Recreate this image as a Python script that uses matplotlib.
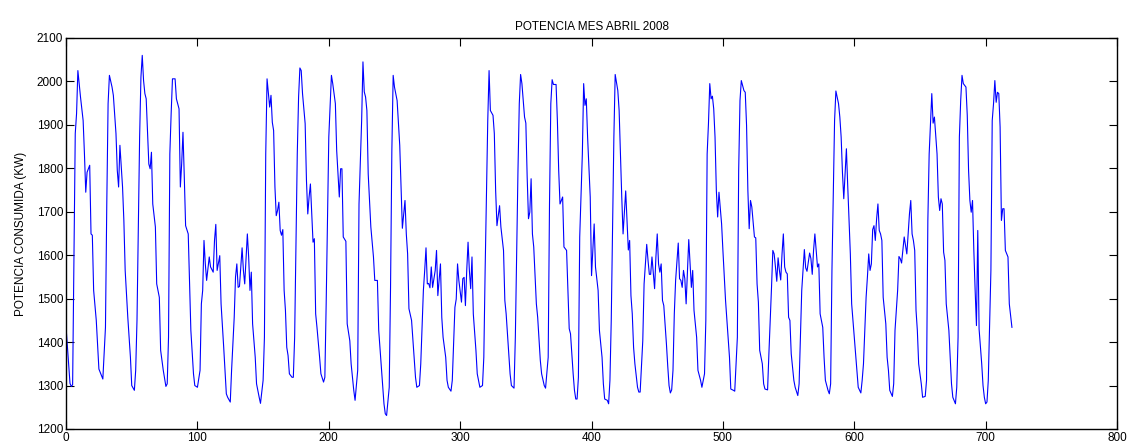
import matplotlib
matplotlib.use("Agg")
import matplotlib.pyplot as plt

# hourly consumption, April 2008 (hour index, kW)
hora = [
    0, 3, 4, 5, 7, 8, 9, 11, 13, 14, 15, 16, 18, 19, 20, 21, 23, 25, 27, 28,
    30, 31, 32, 33, 35, 36, 38, 39, 40, 41, 43, 44, 45, 47, 49, 50, 52, 53, 54, 56,
    57, 58, 59, 60, 61, 63, 64, 65, 66, 68, 69, 71, 72, 74, 76, 77, 78, 79, 80, 81,
    83, 84, 86, 87, 88, 89, 90, 91, 93, 94, 95, 97, 98, 100, 102, 103, 104, 105, 106, 107,
    109, 110, 112, 113, 114, 115, 117, 118, 120, 122, 123, 125, 126, 128, 129, 130, 131, 132, 134, 135,
    136, 138, 139, 140, 141, 142, 144, 145, 147, 148, 150, 151, 152, 153, 155, 156, 157, 158, 159, 160,
    161, 162, 163, 164, 165, 166, 167, 168, 169, 170, 172, 173, 174, 176, 177, 178, 179, 180, 181, 182,
    183, 184, 185, 186, 187, 188, 189, 190, 191, 193, 194, 196, 197, 198, 200, 201, 202, 203, 205, 206,
    208, 209, 210, 211, 213, 214, 216, 217, 219, 220, 222, 223, 225, 226, 227, 228, 229, 230, 232, 234,
    235, 237, 238, 240, 242, 243, 244, 246, 247, 248, 249, 250, 252, 253, 254, 255, 256, 258, 259, 260,
    261, 263, 265, 266, 267, 269, 270, 272, 273, 274, 275, 276, 277, 278, 279, 281, 282, 283, 285, 286,
    287, 289, 290, 291, 293, 294, 296, 297, 298, 299, 301, 302, 303, 304, 305, 306, 307, 308, 309, 310,
    312, 313, 315, 317, 318, 319, 321, 322, 323, 325, 326, 327, 328, 330, 331, 333, 334, 335, 337, 338,
    339, 341, 342, 344, 345, 346, 347, 349, 350, 351, 352, 353, 354, 355, 356, 358, 359, 361, 362, 364,
    365, 367, 368, 369, 370, 371, 373, 374, 375, 376, 377, 378, 379, 381, 382, 383, 384, 386, 387, 388,
    389, 390, 391, 393, 394, 395, 396, 397, 399, 400, 401, 402, 403, 405, 406, 408, 409, 410, 412, 413,
    414, 415, 417, 418, 420, 421, 422, 423, 424, 426, 427, 428, 429, 430, 431, 432, 433, 435, 436, 437,
    439, 440, 442, 443, 444, 445, 446, 448, 449, 450, 451, 452, 453, 454, 455, 457, 458, 459, 460, 461,
    462, 463, 464, 466, 467, 468, 469, 470, 471, 472, 473, 474, 476, 477, 478, 480, 481, 483, 484, 486,
    487, 488, 489, 490, 491, 492, 493, 494, 495, 496, 497, 499, 500, 502, 504, 505, 506, 508, 509, 511,
    512, 513, 514, 516, 517, 518, 519, 520, 521, 522, 524, 525, 526, 527, 528, 530, 531, 532, 534, 535,
    537, 538, 539, 540, 541, 542, 543, 544, 545, 546, 547, 548, 549, 550, 551, 552, 554, 555, 557, 558,
    559, 560, 561, 562, 563, 564, 566, 567, 568, 569, 570, 572, 573, 574, 576, 577, 578, 580, 581, 582,
    583, 585, 586, 588, 589, 590, 591, 592, 594, 595, 597, 598, 600, 602, 603, 605, 606, 607, 609, 610,
    611, 612, 613, 614, 615, 616, 617, 618, 619, 620, 621, 622, 624, 625, 626, 627, 629, 630, 631, 633,
    634, 635, 636, 637, 638, 640, 641, 642, 643, 644, 645, 646, 647, 648, 649, 651, 652, 654, 655, 656,
    657, 659, 660, 661, 663, 664, 665, 666, 667, 668, 669, 670, 672, 673, 674, 675, 677, 678, 679, 680,
    681, 682, 683, 685, 686, 687, 688, 689, 690, 691, 692, 693, 694, 695, 697, 698, 699, 700, 701, 702,
    704, 705, 706, 707, 708, 709, 710, 711, 712, 713, 714, 715, 717, 718, 719, 720,
]
potencia = [
    1434, 1305, 1298, 1302, 1880, 1926, 2025, 1964, 1910, 1833, 1745, 1791, 1807, 1649, 1646, 1519, 1450, 1338, 1323, 1315,
    1434, 1718, 1949, 2014, 1987, 1968, 1880, 1795, 1757, 1853, 1757, 1680, 1565, 1457, 1365, 1300, 1289, 1335, 1450, 1872,
    2010, 2060, 2002, 1972, 1960, 1810, 1799, 1837, 1718, 1665, 1534, 1503, 1381, 1335, 1298, 1304, 1411, 1833, 1926, 2006,
    2006, 1960, 1937, 1757, 1810, 1883, 1780, 1668, 1649, 1534, 1427, 1327, 1300, 1296, 1335, 1488, 1519, 1634, 1580, 1542,
    1596, 1573, 1561, 1634, 1671, 1565, 1599, 1488, 1388, 1281, 1273, 1262, 1335, 1457, 1550, 1580, 1526, 1528, 1617, 1565,
    1534, 1649, 1596, 1519, 1561, 1442, 1365, 1304, 1273, 1259, 1312, 1411, 1833, 2006, 1941, 1968, 1906, 1887, 1757, 1691,
    1703, 1722, 1657, 1646, 1659, 1519, 1473, 1388, 1369, 1327, 1319, 1319, 1411, 1833, 1964, 2031, 2025, 1972, 1937, 1903,
    1772, 1695, 1734, 1764, 1695, 1630, 1638, 1465, 1434, 1365, 1327, 1308, 1319, 1488, 1872, 1941, 2014, 1995, 1949, 1841,
    1734, 1799, 1799, 1642, 1632, 1442, 1403, 1350, 1289, 1266, 1335, 1718, 1910, 2045, 1976, 1964, 1933, 1787, 1665, 1596,
    1542, 1542, 1427, 1342, 1258, 1235, 1231, 1296, 1526, 1841, 2014, 1987, 1956, 1903, 1853, 1757, 1662, 1726, 1649, 1603,
    1477, 1450, 1365, 1319, 1296, 1300, 1350, 1519, 1565, 1617, 1534, 1535, 1525, 1573, 1526, 1565, 1611, 1507, 1580, 1457,
    1411, 1365, 1312, 1296, 1287, 1312, 1480, 1499, 1580, 1542, 1492, 1546, 1549, 1484, 1565, 1630, 1565, 1523, 1596, 1465,
    1381, 1327, 1296, 1300, 1365, 1565, 1910, 2025, 1933, 1922, 1880, 1749, 1668, 1714, 1665, 1611, 1496, 1465, 1373, 1327,
    1300, 1294, 1411, 1795, 1949, 2016, 1995, 1918, 1904, 1780, 1684, 1699, 1776, 1649, 1619, 1488, 1457, 1358, 1327, 1300,
    1294, 1365, 1718, 1949, 2004, 1993, 1993, 1910, 1795, 1718, 1726, 1734, 1619, 1611, 1519, 1431, 1419, 1327, 1289, 1269,
    1269, 1319, 1642, 1833, 1995, 1945, 1960, 1872, 1734, 1553, 1611, 1672, 1573, 1519, 1427, 1365, 1304, 1269, 1266, 1258,
    1312, 1450, 1872, 2016, 1979, 1933, 1833, 1734, 1649, 1748, 1680, 1612, 1634, 1507, 1465, 1388, 1350, 1296, 1285, 1285,
    1403, 1534, 1625, 1588, 1556, 1556, 1596, 1523, 1596, 1649, 1580, 1561, 1580, 1496, 1484, 1396, 1345, 1300, 1283, 1290,
    1335, 1465, 1542, 1628, 1546, 1542, 1526, 1565, 1546, 1488, 1565, 1636, 1526, 1565, 1473, 1411, 1335, 1312, 1296, 1327,
    1450, 1833, 1903, 1995, 1960, 1966, 1937, 1872, 1749, 1688, 1745, 1672, 1611, 1496, 1411, 1365, 1292, 1289, 1287, 1411,
    1795, 1956, 2002, 1979, 1975, 1899, 1749, 1661, 1726, 1711, 1642, 1640, 1534, 1492, 1381, 1350, 1304, 1292, 1290, 1373,
    1526, 1611, 1603, 1573, 1540, 1594, 1565, 1543, 1603, 1649, 1573, 1561, 1557, 1457, 1450, 1373, 1312, 1296, 1277, 1304,
    1411, 1519, 1565, 1613, 1571, 1563, 1605, 1592, 1556, 1611, 1649, 1573, 1580, 1465, 1434, 1365, 1312, 1289, 1281, 1304,
    1565, 1910, 1978, 1949, 1918, 1872, 1790, 1730, 1845, 1760, 1603, 1488, 1411, 1335, 1296, 1283, 1312, 1350, 1503, 1550,
    1603, 1565, 1580, 1659, 1668, 1634, 1684, 1718, 1657, 1649, 1634, 1503, 1442, 1365, 1335, 1289, 1275, 1304, 1427, 1519,
    1597, 1592, 1582, 1611, 1642, 1603, 1649, 1695, 1726, 1649, 1634, 1611, 1473, 1427, 1350, 1304, 1273, 1275, 1312, 1680,
    1833, 1972, 1904, 1918, 1833, 1734, 1703, 1730, 1718, 1607, 1588, 1488, 1427, 1365, 1304, 1273, 1258, 1296, 1411, 1872,
    1956, 2014, 1995, 1987, 1922, 1795, 1726, 1699, 1726, 1611, 1519, 1438, 1657, 1430, 1350, 1300, 1273, 1258, 1262, 1312,
    1565, 1910, 1949, 2002, 1952, 1975, 1972, 1895, 1680, 1707, 1707, 1611, 1596, 1488, 1460, 1434,
]

x_ticks = list(range(0, 900, 100))
y_ticks = list(range(1200, 2200, 100))

plt.rcParams['font.family'] = ['Liberation Sans', 'DejaVu Sans']

fig = plt.figure(figsize=(11.33, 4.47), dpi=100)
ax = fig.add_axes([0.0583, 0.0403, 0.9276, 0.8747])

ax.plot(hora, potencia, color='#0000ff', linewidth=0.8)

ax.set_xlim(0, 800)
ax.set_ylim(1200, 2100)
ax.set_xticks(x_ticks)
ax.set_yticks(y_ticks)
ax.tick_params(direction='in', length=6, width=0.8, labelsize=8.5,
               top=True, right=True, pad=2)
for s in ax.spines.values():
    s.set_linewidth(1.0)
    s.set_color('black')

ax.set_title('POTENCIA MES ABRIL 2008', fontsize=8.5, pad=6)
ax.set_ylabel('POTENCIA CONSUMIDA (KW)', fontsize=8.5, labelpad=7)

fig.savefig('out.png', dpi=100)
